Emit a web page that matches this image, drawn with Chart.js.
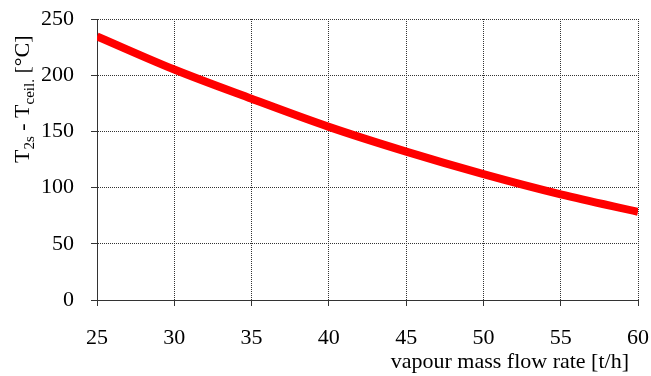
<!DOCTYPE html>
<html>
<head>
<meta charset="utf-8">
<script src="https://cdn.jsdelivr.net/npm/chart.js@4.4.1/dist/chart.umd.min.js"></script>
<style>
  html, body { margin: 0; padding: 0; background: #fff; }
  #wrap { width: 651px; height: 376px; }
</style>
</head>
<body>
<div id="wrap"><canvas id="chart" width="651" height="376"></canvas></div>
<script>
// vapour mass flow rate [t/h]
const flowRates = [25, 30, 35, 40, 45, 50, 55, 60];
// temperature difference T2s - Tceil. [°C]
const tempDiff = [234.5, 205, 179, 154, 132, 112, 94, 78.5];

const xTicks = [25, 30, 35, 40, 45, 50, 55, 60];
const yTicks = [0, 50, 100, 150, 200, 250];

const FONT = '"Liberation Serif", "Times New Roman", serif';

// axis titles drawn by hand: the y title needs subscripts
const axisTitles = {
    id: 'axisTitles',
    afterDraw(chart) {
        const ctx = chart.ctx;
        ctx.save();
        ctx.fillStyle = '#000';

        // x title, right aligned under the axis
        ctx.font = '22px ' + FONT;
        ctx.textAlign = 'right';
        ctx.textBaseline = 'middle';
        ctx.fillText('vapour mass flow rate [t/h]', chart.chartArea.right - 9, 362);

        // y title, rotated, with subscripts
        const parts = [
            { t: 'T', sub: false },
            { t: '2s', sub: true },
            { t: ' - T', sub: false },
            { t: 'ceil.', sub: true },
            { t: ' [°C]', sub: false }
        ];
        ctx.translate(29, 163);
        ctx.rotate(-Math.PI / 2);
        ctx.textAlign = 'left';
        ctx.textBaseline = 'alphabetic';
        let cx = 0;
        parts.forEach(p => {
            ctx.font = (p.sub ? '15px ' : '22px ') + FONT;
            ctx.fillText(p.t, cx, p.sub ? 5 : 0);
            cx += ctx.measureText(p.t).width;
        });
        ctx.restore();
    }
};

const gridOpts = {
    color: '#333',
    lineWidth: 1,
    tickLength: 6,
    tickColor: '#333',
    tickBorderDash: []
};

new Chart(document.getElementById('chart'), {
    type: 'line',
    data: {
        datasets: [{
            data: flowRates.map((x, i) => ({ x: x, y: tempDiff[i] })),
            borderColor: '#ff0000',
            borderWidth: 8,
            pointRadius: 0,
            tension: 0.4,
            cubicInterpolationMode: 'monotone',
            fill: false
        }]
    },
    options: {
        responsive: false,
        animation: false,
        layout: { padding: { top: 19, right: 13, left: 0, bottom: 0 } },
        plugins: {
            legend: { display: false },
            tooltip: { enabled: false }
        },
        scales: {
            x: {
                type: 'linear',
                min: 25,
                max: 60,
                afterBuildTicks: scale => { scale.ticks = xTicks.map(v => ({ value: v })); },
                afterFit: scale => {
                    scale.height = 76;
                    scale.paddingLeft = 0;
                    scale.paddingRight = 0;
                },
                ticks: {
                    color: '#000',
                    font: { family: FONT, size: 22 },
                    padding: 19,
                    maxRotation: 0
                },
                grid: gridOpts,
                border: { color: '#333', width: 1, dash: [1, 1] }
            },
            y: {
                min: 0,
                max: 250,
                afterBuildTicks: scale => { scale.ticks = yTicks.map(v => ({ value: v })); },
                afterFit: scale => {
                    scale.width = 97;
                    scale.paddingTop = 0;
                    scale.paddingBottom = 0;
                },
                ticks: {
                    color: '#000',
                    font: { family: FONT, size: 22 },
                    padding: 17
                },
                grid: gridOpts,
                border: { color: '#333', width: 1, dash: [1, 1] }
            }
        }
    },
    plugins: [axisTitles]
});
</script>
</body>
</html>
